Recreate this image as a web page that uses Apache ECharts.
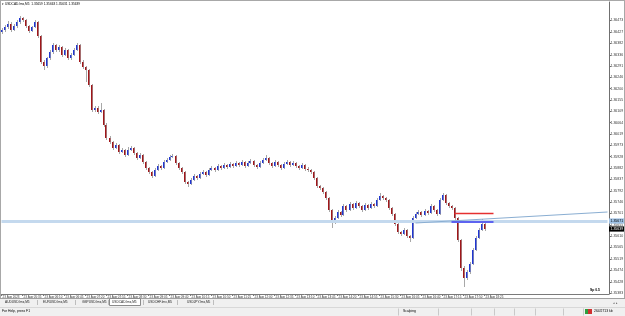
<!DOCTYPE html>
<html><head><meta charset="utf-8">
<script src="https://cdn.jsdelivr.net/npm/echarts@6/dist/echarts.min.js"></script>
<style>html,body{margin:0;padding:0;background:#fff;}#c{width:625px;height:316px;}</style>
</head><body><div id="c"></div>
<script>
// ---- data (USDCAD M5) ----
const opens = [
1.36427,1.36435,1.36447,1.36459,1.36435,1.36451,1.36467,1.36483,1.36475,1.36451,
1.36431,1.36447,1.36467,1.36411,1.36307,1.36291,1.36323,1.36347,1.36375,1.36355,
1.36367,1.36335,1.36355,1.36323,1.36335,1.36355,1.36375,1.36307,1.36287,1.36275,
1.36215,1.36115,1.36123,1.36107,1.36115,1.36055,1.36003,1.35987,1.35963,1.35975,
1.35947,1.35955,1.35935,1.35955,1.35963,1.35943,1.35923,1.35935,1.35907,1.35883,
1.35867,1.35851,1.35875,1.35891,1.35883,1.35907,1.35915,1.35927,1.35931,1.35903,
1.35883,1.35867,1.35827,1.35819,1.35835,1.35851,1.35843,1.35859,1.35867,1.35855,
1.35875,1.35883,1.35875,1.35891,1.35883,1.35895,1.35887,1.35899,1.35891,1.35903,
1.35895,1.35907,1.35891,1.35903,1.35911,1.35895,1.35887,1.35903,1.35915,1.35923,
1.35903,1.35891,1.35907,1.35895,1.35883,1.35899,1.35907,1.35895,1.35903,1.35891,
1.35883,1.35895,1.35879,1.35875,1.35867,1.35843,1.35811,1.35803,1.35787,1.35763,
1.35715,1.35667,1.35683,1.35707,1.35695,1.35731,1.35715,1.35739,1.35723,1.35743,
1.35731,1.35715,1.35735,1.35723,1.35739,1.35731,1.35755,1.35771,1.35763,1.35755,
1.35723,1.35699,1.35659,1.35627,1.35619,1.35635,1.35611,1.35603,1.35683,1.35699,
1.35707,1.35695,1.35711,1.35703,1.35731,1.35715,1.35699,1.35755,1.35775,1.35743,
1.35731,1.35723,1.35683,1.35595,1.35483,1.35443,1.35467,1.35499,1.35555,1.35603,
1.35635,1.35659];
const highs = [
1.36443,1.36455,1.36471,1.36467,1.36459,1.36475,1.36491,1.36487,1.36479,1.36455,
1.36451,1.36475,1.36471,1.36415,1.36315,1.36327,1.36355,1.36383,1.36379,1.36375,
1.36371,1.36363,1.36359,1.36343,1.36363,1.36383,1.36379,1.36315,1.36291,1.36279,
1.36219,1.36131,1.36131,1.36143,1.36119,1.36063,1.36011,1.35991,1.35983,1.35979,
1.35963,1.35959,1.35967,1.35971,1.35967,1.35947,1.35943,1.35939,1.35911,1.35887,
1.35871,1.35883,1.35899,1.35895,1.35915,1.35923,1.35935,1.35939,1.35935,1.35907,
1.35887,1.35871,1.35831,1.35843,1.35859,1.35855,1.35867,1.35875,1.35871,1.35883,
1.35891,1.35887,1.35899,1.35895,1.35903,1.35899,1.35907,1.35903,1.35911,1.35907,
1.35915,1.35911,1.35911,1.35919,1.35915,1.35899,1.35911,1.35923,1.35935,1.35927,
1.35907,1.35915,1.35911,1.35899,1.35907,1.35915,1.35911,1.35911,1.35907,1.35895,
1.35903,1.35899,1.35887,1.35879,1.35871,1.35847,1.35815,1.35807,1.35791,1.35767,
1.35719,1.35691,1.35715,1.35711,1.35739,1.35735,1.35747,1.35743,1.35751,1.35747,
1.35735,1.35743,1.35739,1.35747,1.35743,1.35763,1.35783,1.35775,1.35767,1.35759,
1.35727,1.35703,1.35663,1.35631,1.35643,1.35639,1.35615,1.35691,1.35707,1.35715,
1.35711,1.35719,1.35715,1.35739,1.35735,1.35719,1.35763,1.35783,1.35779,1.35747,
1.35735,1.35727,1.35687,1.35599,1.35491,1.35475,1.35507,1.35563,1.35611,1.35643,
1.35679,1.35663];
const lows = [
1.36419,1.36427,1.36439,1.36427,1.36431,1.36443,1.36459,1.36467,1.36443,1.36423,
1.36427,1.36443,1.36403,1.36299,1.36275,1.36283,1.36315,1.36339,1.36347,1.36347,
1.36327,1.36331,1.36315,1.36315,1.36331,1.36351,1.36299,1.36279,1.36227,1.36207,
1.36107,1.36107,1.36099,1.36103,1.36047,1.35995,1.35979,1.35955,1.35959,1.35939,
1.35943,1.35927,1.35931,1.35951,1.35935,1.35915,1.35919,1.35899,1.35875,1.35859,
1.35843,1.35847,1.35871,1.35875,1.35879,1.35903,1.35911,1.35923,1.35895,1.35875,
1.35859,1.35819,1.35807,1.35815,1.35831,1.35835,1.35839,1.35855,1.35847,1.35851,
1.35871,1.35867,1.35871,1.35875,1.35879,1.35879,1.35883,1.35883,1.35887,1.35887,
1.35891,1.35883,1.35887,1.35899,1.35887,1.35879,1.35883,1.35899,1.35911,1.35895,
1.35883,1.35887,1.35887,1.35875,1.35879,1.35895,1.35887,1.35891,1.35883,1.35875,
1.35879,1.35871,1.35867,1.35859,1.35835,1.35803,1.35795,1.35779,1.35755,1.35707,
1.35643,1.35659,1.35679,1.35687,1.35691,1.35707,1.35711,1.35715,1.35719,1.35723,
1.35707,1.35711,1.35715,1.35719,1.35723,1.35727,1.35751,1.35755,1.35747,1.35715,
1.35691,1.35651,1.35619,1.35611,1.35615,1.35603,1.35587,1.35599,1.35679,1.35695,
1.35687,1.35691,1.35695,1.35699,1.35707,1.35691,1.35695,1.35751,1.35735,1.35723,
1.35715,1.35675,1.35587,1.35471,1.35407,1.35435,1.35459,1.35495,1.35551,1.35599,
1.35631,1.35631];
const closes = [
1.36435,1.36447,1.36459,1.36435,1.36451,1.36467,1.36483,1.36475,1.36451,1.36431,
1.36447,1.36467,1.36411,1.36307,1.36291,1.36323,1.36347,1.36375,1.36355,1.36367,
1.36335,1.36355,1.36323,1.36335,1.36355,1.36375,1.36307,1.36287,1.36275,1.36215,
1.36115,1.36123,1.36107,1.36115,1.36055,1.36003,1.35987,1.35963,1.35975,1.35947,
1.35955,1.35935,1.35955,1.35963,1.35943,1.35923,1.35935,1.35907,1.35883,1.35867,
1.35851,1.35875,1.35891,1.35883,1.35907,1.35915,1.35927,1.35931,1.35903,1.35883,
1.35867,1.35827,1.35819,1.35835,1.35851,1.35843,1.35859,1.35867,1.35855,1.35875,
1.35883,1.35875,1.35891,1.35883,1.35895,1.35887,1.35899,1.35891,1.35903,1.35895,
1.35907,1.35891,1.35903,1.35911,1.35895,1.35887,1.35903,1.35915,1.35923,1.35903,
1.35891,1.35907,1.35895,1.35883,1.35899,1.35907,1.35895,1.35903,1.35891,1.35883,
1.35895,1.35879,1.35875,1.35867,1.35843,1.35811,1.35803,1.35787,1.35763,1.35715,
1.35667,1.35683,1.35707,1.35695,1.35731,1.35715,1.35739,1.35723,1.35743,1.35731,
1.35715,1.35735,1.35723,1.35739,1.35731,1.35755,1.35771,1.35763,1.35755,1.35723,
1.35699,1.35659,1.35627,1.35619,1.35635,1.35611,1.35603,1.35683,1.35699,1.35707,
1.35695,1.35711,1.35703,1.35731,1.35715,1.35699,1.35755,1.35775,1.35743,1.35731,
1.35723,1.35683,1.35595,1.35483,1.35443,1.35467,1.35499,1.35555,1.35603,1.35635,
1.35659,1.35639];

// time-axis tick labels, one every 7 bars (bar 0, 7, 14, ...)
const timeLabels = ["23 Aug 2023","23 Aug 05:35","23 Aug 06:10","23 Aug 06:45","23 Aug 07:20","23 Aug 07:55",
"23 Aug 08:30","23 Aug 09:05","23 Aug 09:40","23 Aug 10:15","23 Aug 10:50","23 Aug 11:25","23 Aug 12:00",
"23 Aug 12:35","23 Aug 13:10","23 Aug 13:45","23 Aug 14:20","23 Aug 14:55","23 Aug 15:30","23 Aug 16:05",
"23 Aug 16:40","23 Aug 17:15","23 Aug 17:50","23 Aug 18:25"];
const labelEvery = 7;
// price-axis tick labels
const priceTicks = [1.35383,1.35428,1.35474,1.35519,1.35565,1.35610,1.35655,1.35701,1.35746,1.35792,
1.35837,1.35882,1.35928,1.35973,1.36019,1.36064,1.36109,1.36155,1.36200,1.36246,1.36291,1.36336,
1.36382,1.36427,1.36473,1.36518];
// drawn objects
const hLevel = 1.35671;           // horizontal line (light blue, full width)
const trendFrom = [138, 1.35663]; // trend line start [bar, price]
const trendTo = [202, 1.35707];   // trend line end
const redLevel = 1.35703, redFrom = 151, redTo = 164;
const blueLevel = 1.35669, blueFrom = 150, blueTo = 164;
const slotCount = 203;            // bars + chart shift
const symbolName = "USDCAD.lmx,M5";
const tabs = ["AUDUSD.lmx,M5","EURUSD.lmx,M5","GBPUSD.lmx,M5","USDCAD.lmx,M5","USDCHF.lmx,M5","USDJPY.lmx,M5"];

const slots = [];
for (let i = 0; i < slotCount; i++) slots.push(String(i));
const table = opens.map((o, i) => [i, o, closes[i], lows[i], highs[i]]);
const last = opens.length - 1;
const FONT = 'Liberation Sans';

const chart = echarts.init(document.getElementById('c'), null, {renderer: 'canvas'});
const labelFilter = (idx) => idx % labelEvery === 0 && idx <= last;

function txt(x, y, s, size, color, extra) {
  return Object.assign({type: 'text', x: x, y: y, silent: true, z: 100,
    style: Object.assign({text: s, fontSize: size, fontFamily: FONT, fill: color || '#000', verticalAlign: 'middle'}, extra || {})});
}
function rect(x, y, w, h, fill, stroke) {
  return {type: 'rect', silent: true, z: 90, shape: {x: x, y: y, width: w, height: h},
    style: {fill: fill, stroke: stroke || null, lineWidth: 1}};
}

const graphics = [
  rect(0, 0, 625, 1, '#a8a8a8'),
  rect(0, 0, 1, 299, '#a8a8a8'),
  rect(624, 0, 1, 299, '#a8a8a8'),
  rect(0, 298, 625, 9, '#f0f0f0'),
  rect(0, 298, 625, 1, '#a0a0a0'),
  rect(109.5, 298.5, 31, 7, '#ffffff', '#8a8a8a'),
  rect(0, 307, 625, 9, '#f0f0f0'),
  rect(0, 307, 625, 1, '#d8d8d8'),
  txt(2, 4.5, '\u25BE ' + symbolName + '  ' + opens[last].toFixed(5) + ' ' + highs[last].toFixed(5) + ' ' + lows[last].toFixed(5) + ' ' + closes[last].toFixed(5), 3.2, '#000'),
  txt(590, 290.5, 'Sp 0.5', 3.4, '#000', {fontWeight: 'bold'}),
  txt(2, 311.5, 'For Help, press F1', 3.4, '#000'),
  txt(403, 311.5, 'Scalping', 3.4, '#000'),
  txt(594, 311.5, '264/2713 kb', 3.4, '#000'),
  txt(613, 303, '\u25C2 \u25B8', 3.4, '#555'),
  rect(585, 309, 3, 5, '#2e9e3e'),
  rect(588, 309, 4, 5, '#d03030')
];
const tabX = [5, 43, 82, 112, 148, 187];
tabs.forEach((t, k) => graphics.push(txt(tabX[k], 302.5, t, 3.2, '#222')));
[37, 75, 108, 143, 177, 213].forEach(x => graphics.push(rect(x, 300, 0.6, 5, '#9a9a9a')));
[398, 438, 471, 494, 514, 535, 563, 583].forEach(x => graphics.push(rect(x, 308.5, 0.7, 7, '#b8b8b8')));

const axisLabelBox = (text, bg, fg) => ({show: true, position: 'end', distance: 1.5, formatter: text, backgroundColor: bg,
  color: fg, fontSize: 3.5, fontFamily: FONT, padding: [0.6, 1.5]});

chart.setOption({
  animation: false,
  backgroundColor: '#ffffff',
  grid: {left: 0, right: 16, top: 2, bottom: 22, containLabel: false, outerBoundsMode: 'none'},
  xAxis: {
    type: 'category', data: slots, boundaryGap: true,
    axisLine: {show: true, lineStyle: {color: '#7a7a7a', width: 1}},
    axisTick: {show: true, length: 2, alignWithLabel: true, interval: labelFilter, lineStyle: {color: '#7a7a7a'}},
    axisLabel: {show: true, interval: labelFilter, align: 'left', margin: 1.5, fontSize: 3, fontFamily: FONT, color: '#333',
      padding: [0, 0, 0, 1],
      formatter: (v, idx) => timeLabels[Math.round(idx / labelEvery)] || ''},
    splitLine: {show: false}
  },
  yAxis: {
    type: 'value', position: 'right', min: 1.35379, max: 1.36547,
    axisLine: {show: true, lineStyle: {color: '#707070', width: 1}},
    axisTick: {show: true, length: 2, customValues: priceTicks, lineStyle: {color: '#707070'}},
    axisLabel: {show: true, customValues: priceTicks, formatter: v => v.toFixed(5), margin: 1.5,
      fontSize: 3.5, fontFamily: FONT, color: '#333', showMaxLabel: false},
    splitLine: {show: false}
  },
  series: [{
    type: 'custom', name: symbolName, data: table, encode: {x: 0, y: [1, 2, 3, 4]}, clip: true,
    renderItem: function (params, api) {
      const i = api.value(0), o = api.value(1), c = api.value(2), l = api.value(3), h = api.value(4);
      const pO = api.coord([i, o]), pC = api.coord([i, c]), pH = api.coord([i, h]), pL = api.coord([i, l]);
      const bx = Math.round(pO[0] - 1);
      const top = Math.min(pO[1], pC[1]), bot = Math.max(pO[1], pC[1]);
      const up = c >= o;
      return {type: 'group', children: [
        {type: 'rect', shape: {x: bx + 1, y: pH[1], width: 1, height: pL[1] - pH[1]}, style: {fill: '#a8a8a8'}},
        {type: 'rect', shape: {x: bx, y: top, width: 1.4, height: Math.max(1, bot - top)}, style: {fill: up ? '#2036d2' : '#a0161a'}}
      ]};
    },
    markLine: {
      symbol: 'none', silent: true, animation: false, z: 5,
      label: {show: false},
      data: [
        [{coord: [0, hLevel]}, {coord: [slotCount - 1, hLevel], lineStyle: {color: '#c4d9ee', width: 3, type: 'solid'},
          label: axisLabelBox(hLevel.toFixed(5), '#9fc2e6', '#000')}],
        [{coord: trendFrom}, {coord: trendTo, lineStyle: {color: '#8aaed2', width: 1, type: 'solid'}}],
        [{coord: [redFrom, redLevel]}, {coord: [redTo, redLevel], lineStyle: {color: '#e53030', width: 1.3, type: 'solid'}}],
        [{coord: [blueFrom, blueLevel]}, {coord: [blueTo, blueLevel], lineStyle: {color: '#3b3bf0', width: 1.6, type: 'solid'}}],
        [{coord: [last, closes[last]]}, {coord: [slotCount - 1, closes[last]], lineStyle: {color: 'rgba(0,0,0,0)', width: 1, type: 'solid'},
          label: axisLabelBox(closes[last].toFixed(5), '#000', '#fff')}]
      ]
    }
  }],
  graphic: graphics
});
</script></body></html>
